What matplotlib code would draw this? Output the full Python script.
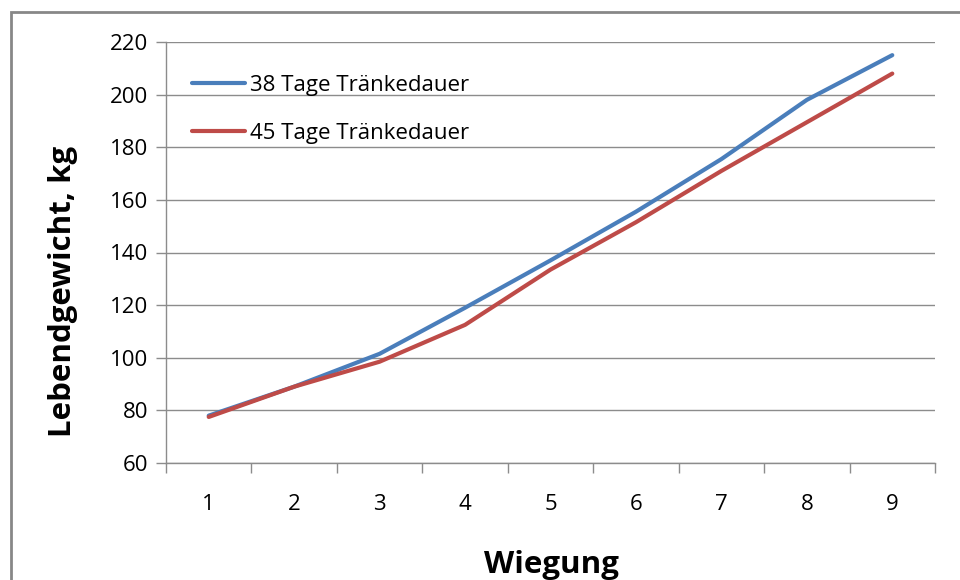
import numpy as np
import matplotlib
matplotlib.use("Agg")
import matplotlib.pyplot as plt
from matplotlib.patches import Rectangle

plt.rcParams['font.family'] = ['Open Sans', 'DejaVu Sans']

# ------------------Data------------------
wiegung = [1, 2, 3, 4, 5, 6, 7, 8, 9]
tage_38 = [78, 89, 101.5, 119, 137, 155.5, 175.5, 198, 215]
tage_45 = [77.5, 89, 98.5, 112.5, 133.5, 151.5, 171, 189.5, 208]
series_names = ["38 Tage Tränkedauer", "45 Tage Tränkedauer"]
y_ticks = [60, 80, 100, 120, 140, 160, 180, 200, 220]

fig = plt.figure(figsize=(9.6, 5.8), dpi=100)
W, H = 960.0, 580.0

# Outer chart frame (Excel style), runs off right/bottom
fig.patches.append(Rectangle((11 / W, -0.1), 1.2, (580 - 12) / H + 0.1,
                             transform=fig.transFigure, fill=False,
                             edgecolor='#878787', linewidth=2.0))

ax = fig.add_axes([166 / W, (580 - 463) / H, (935 - 166) / W, (463 - 42) / H])

x = np.arange(len(wiegung))
ax.plot(x, tage_38, color='#4A7EBB', linewidth=3.0, solid_capstyle='round',
        label=series_names[0])
ax.plot(x, tage_45, color='#BE4B48', linewidth=3.0, solid_capstyle='round',
        label=series_names[1])

ax.set_xlim(-0.5, len(wiegung) - 0.5)
ax.set_ylim(60, 220)
ax.set_yticks(y_ticks)
ax.set_yticklabels([str(v) for v in y_ticks], fontsize=16)
ax.yaxis.grid(True, color='#8c8c8c', linewidth=1.0)
ax.set_axisbelow(True)

# category boundaries as ticks, labels in between
ax.set_xticks(np.arange(len(wiegung) + 1) - 0.5)
ax.set_xticklabels([])
ax.set_xticks(x, minor=True)
ax.set_xticklabels([str(w) for w in wiegung], minor=True, fontsize=16)
ax.tick_params(axis='x', which='major', length=7, color='#8c8c8c', width=1.0)
ax.tick_params(axis='x', which='minor', length=0, pad=22)
ax.tick_params(axis='y', length=7, color='#8c8c8c', width=1.0, pad=6)

for s in ['top', 'right']:
    ax.spines[s].set_visible(False)
for s in ['left', 'bottom']:
    ax.spines[s].set_color('#8c8c8c')
    ax.spines[s].set_linewidth(1.0)

ax.set_ylabel("Lebendgewicht, kg", fontsize=22.5, fontweight='bold')
ax.yaxis.set_label_coords((78 - 166) / 769, (463 - 291) / 421)
fig.text(551 / W, 1 - 573 / H, "Wiegung", fontsize=22.5, fontweight='bold',
         ha='center', va='baseline')

ax.legend(loc='upper left', bbox_to_anchor=((183 - 166) / 769, 1 - (66 - 42) / 421),
          frameon=False, fontsize=16, handlelength=2.4, handletextpad=0.2,
          labelspacing=1.2, borderaxespad=0)

fig.savefig("out.png", dpi=100)
